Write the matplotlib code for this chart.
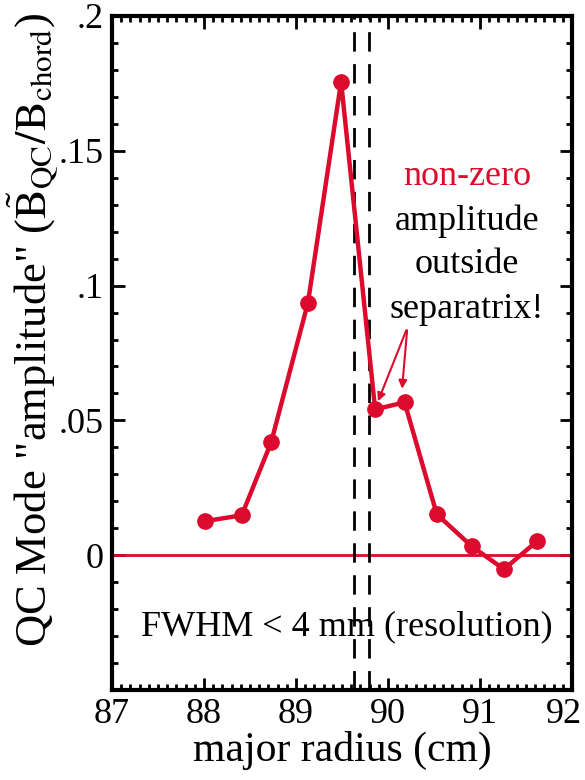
import matplotlib
matplotlib.use("Agg")
import matplotlib.pyplot as plt
import matplotlib.transforms as mtransforms
from matplotlib.ticker import MultipleLocator, FixedLocator, FixedFormatter

# ---- data ----
radius_cm = [88.01, 88.41, 88.73, 89.13, 89.49, 89.86, 90.18, 90.53, 90.91, 91.26, 91.62]
amplitude = [0.0126, 0.0148, 0.0419, 0.0937, 0.1756, 0.0541, 0.0567, 0.0152, 0.0033, -0.0052, 0.0052]
separatrix_cm = [89.63, 89.79]
y_ticks = [0.0, 0.05, 0.1, 0.15, 0.2]
y_tick_labels = ["0", ".05", ".1", ".15", ".2"]
x_ticks = [87, 88, 89, 90, 91, 92]

RED = "#DC0A2D"

plt.rcParams["font.family"] = ["Liberation Serif", "DejaVu Serif"]
plt.rcParams["mathtext.fontset"] = "stix"

fig = plt.figure(figsize=(5.85, 7.8), dpi=100)
ax = fig.add_axes([0.1915, 0.1154, 0.7863, 0.8641])

ax.axhline(0, color=RED, lw=2)
for xs in separatrix_cm:
    ax.axvline(xs, color="black", lw=2, ls=(0, (7, 4.5)))
ax.plot(radius_cm, amplitude, color=RED, lw=3.2, marker="o", ms=11, zorder=3)

ax.set_xlim(87, 92)
ax.set_ylim(-0.05, 0.2)
ax.xaxis.set_major_locator(FixedLocator(x_ticks))
ax.xaxis.set_minor_locator(MultipleLocator(0.1))
ax.yaxis.set_major_locator(FixedLocator(y_ticks))
ax.yaxis.set_major_formatter(FixedFormatter(y_tick_labels))
ax.yaxis.set_minor_locator(MultipleLocator(0.01))
ax.tick_params(which="both", direction="in", top=True, right=True, labelsize=26, width=2)
ax.tick_params(which="major", length=9, pad=6)
ax.tick_params(which="minor", length=4)
for sp in ax.spines.values():
    sp.set_linewidth(3)

# last x tick label sits against the figure edge, nudge it in a bit
last = ax.get_xticklabels()[-1]
last.set_transform(last.get_transform() + mtransforms.ScaledTranslation(-8 / 100, 0, fig.dpi_scale_trans))

ax.set_xlabel("major radius (cm)", fontsize=30, labelpad=0)
ax.set_ylabel('QC Mode "amplitude" ($\\tilde{\\mathrm{B}}_{\\mathrm{QC}}/\\mathrm{B}_{\\mathrm{chord}}$)',
              fontsize=32)
ax.yaxis.set_label_coords(-0.112, 0.534)

ax.text(90.86, 0.1404, "non-zero", color=RED, fontsize=26, ha="center", va="center")
ax.text(90.86, 0.1237, "amplitude", color="black", fontsize=26, ha="center", va="center")
ax.text(90.86, 0.1078, "outside", color="black", fontsize=26, ha="center", va="center")
ax.text(90.86, 0.0911, "separatrix!", color="black", fontsize=26, ha="center", va="center")

arrow_start = (90.21, 0.0844)
ax.annotate("", xy=(radius_cm[5] + 0.02, amplitude[5] + 0.002), xytext=arrow_start,
            arrowprops=dict(arrowstyle="-|>", color=RED, lw=1.5, mutation_scale=12))
ax.annotate("", xy=(radius_cm[6] - 0.03, amplitude[6] + 0.004), xytext=arrow_start,
            arrowprops=dict(arrowstyle="-|>", color=RED, lw=1.5, mutation_scale=12))

ax.text(89.55, -0.0267, "FWHM < 4 mm (resolution)", fontsize=26, ha="center", va="center")

fig.savefig("out.png", dpi=100)
